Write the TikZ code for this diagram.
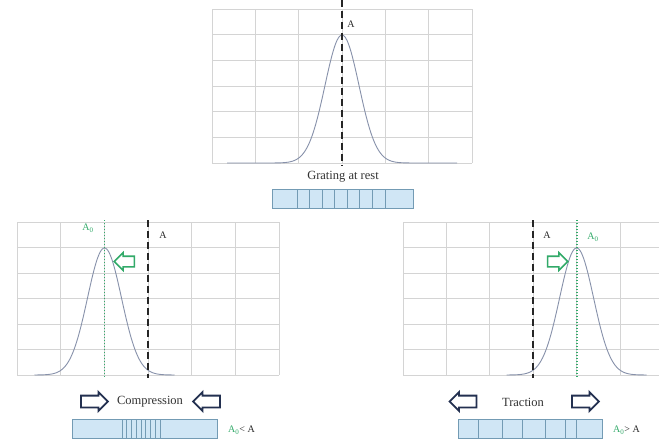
\documentclass[tikz,border=0pt]{standalone}
\usepackage{fontspec}
\setmainfont{Liberation Serif}
\usetikzlibrary{shapes.arrows}
\definecolor{gridc}{RGB}{212,212,212}
\definecolor{curvec}{RGB}{135,145,170}
\definecolor{grn}{RGB}{50,170,105}
\definecolor{navy}{RGB}{35,48,80}
\definecolor{barfill}{RGB}{208,230,245}
\definecolor{barline}{RGB}{115,155,180}
\tikzset{
  gridline/.style={gridc, line width=0.8pt},
  curve/.style={curvec, line width=0.9pt},
  refline/.style={black!85, line width=2pt, dash pattern=on 7pt off 4pt},
  shiftline/.style={grn, line width=1.8pt, dash pattern=on 1.4pt off 1.6pt},
  bigarrow/.style={single arrow, draw=navy, line width=1.8pt, fill=white,
    minimum height=27pt, inner xsep=0pt, inner ysep=5pt, single arrow head extend=3.5pt,
    single arrow head indent=0pt},
  grnarrow/.style={single arrow, draw=grn, line width=1.6pt, fill=white,
    minimum height=20pt, inner xsep=0pt, inner ysep=4.5pt, single arrow head extend=3.5pt,
    single arrow head indent=0pt},
  bar/.style={fill=barfill, draw=barline, line width=0.8pt},
  barsep/.style={barline, line width=0.9pt},
  lbl/.style={font=\fontsize{12.5}{14}\selectfont, text=black!80, inner sep=0pt},
  albl/.style={font=\fontsize{10}{12}\selectfont, text=black!85, inner sep=0pt},
  glbl/.style={font=\fontsize{10}{12}\selectfont, text=grn, inner sep=0pt},
}
\begin{document}
\begin{tikzpicture}[x=1pt,y=-1pt]
\useasboundingbox (0,0) rectangle (659,442);
\clip (0,0) rectangle (659,442);
\fill[white] (0,0) rectangle (659,442);

% ---------- top chart: grating at rest ----------
\foreach \i in {0,...,6} {
  \draw[gridline] ({212+43.333*\i},9) -- ({212+43.333*\i},163);
  \draw[gridline] (212,{9+25.667*\i}) -- (472,{9+25.667*\i});
}
\draw[curve] plot[domain=-115:115, samples=141, smooth]
  ({342+\x},{163-128*exp(-(\x*\x)/578)});
\coordinate (t1) at (342,0);
\coordinate (t2) at (342,166);
\draw[refline] (t1) -- (t2);
\node[albl] (tA) at (351,24) {A};
\node[lbl] (tlab) at (343,177) {Grating at rest};
\node[bar, minimum width=141pt, minimum height=19pt, inner sep=0pt] (tbar) at (342.5,198.5) {};
\foreach \i in {0,...,7} {
  \draw[barsep] ({297+12.57*\i},189) -- ({297+12.57*\i},208);
}

% ---------- left chart: compression ----------
\foreach \i in {0,...,6} {
  \draw[gridline] ({17+43.667*\i},222) -- ({17+43.667*\i},375);
  \draw[gridline] (17,{222+25.5*\i}) -- (279,{222+25.5*\i});
}
\draw[curve] plot[domain=-70:70, samples=121, smooth]
  ({104.5+\x},{375-127*exp(-(\x*\x)/578)});
\coordinate (l1) at (104.5,220);
\coordinate (l2) at (104.5,378);
\draw[shiftline] (l1) -- (l2);
\coordinate (l3) at (148,220);
\coordinate (l4) at (148,378);
\draw[refline] (l3) -- (l4);
\node[glbl] (lA0) at (88,228) {A\textsubscript{0}};
\node[albl] (lA) at (163,235) {A};
\node[grnarrow, shape border rotate=180] (lg) at (127,261.5) {};
\node[lbl] (llab) at (150,402) {Compression};
\node[bigarrow] (la1) at (91.5,401.5) {};
\node[bigarrow, shape border rotate=180] (la2) at (209.5,401.5) {};
\node[bar, minimum width=145pt, minimum height=19pt, inner sep=0pt] (lbar) at (144.5,428.5) {};
\foreach \i in {0,...,8} {
  \draw[barsep] ({122+4.75*\i},419) -- ({122+4.75*\i},438);
}
\node[albl, anchor=west] (lrel) at (228,430) {{\color{grn}A\textsubscript{0}}< A};

% ---------- right chart: traction ----------
\foreach \i in {0,...,6} {
  \draw[gridline] ({403+43.4*\i},222) -- ({403+43.4*\i},375);
  \draw[gridline] (403,{222+25.5*\i}) -- (665,{222+25.5*\i});
}
\draw[curve] plot[domain=-70:70, samples=121, smooth]
  ({576.6+\x},{375-127*exp(-(\x*\x)/578)});
\coordinate (r1) at (576.6,220);
\coordinate (r2) at (576.6,378);
\draw[shiftline] (r1) -- (r2);
\coordinate (r3) at (533.2,220);
\coordinate (r4) at (533.2,378);
\draw[refline] (r3) -- (r4);
\node[glbl] (rA0) at (593,237) {A\textsubscript{0}};
\node[albl] (rA) at (547,235) {A};
\node[grnarrow] (rg) at (555,261.5) {};
\node[lbl] (rlab) at (523,402) {Traction};
\node[bigarrow, shape border rotate=180] (ra1) at (466,401.5) {};
\node[bigarrow] (ra2) at (582.5,401.5) {};
\node[bar, minimum width=144pt, minimum height=19pt, inner sep=0pt] (rbar) at (530,428.5) {};
\foreach \xx in {478,502,522,545,565,576} {
  \draw[barsep] (\xx,419) -- (\xx,438);
}
\node[albl, anchor=west] (rrel) at (613,430) {{\color{grn}A\textsubscript{0}}> A};
\end{tikzpicture}
\end{document}
